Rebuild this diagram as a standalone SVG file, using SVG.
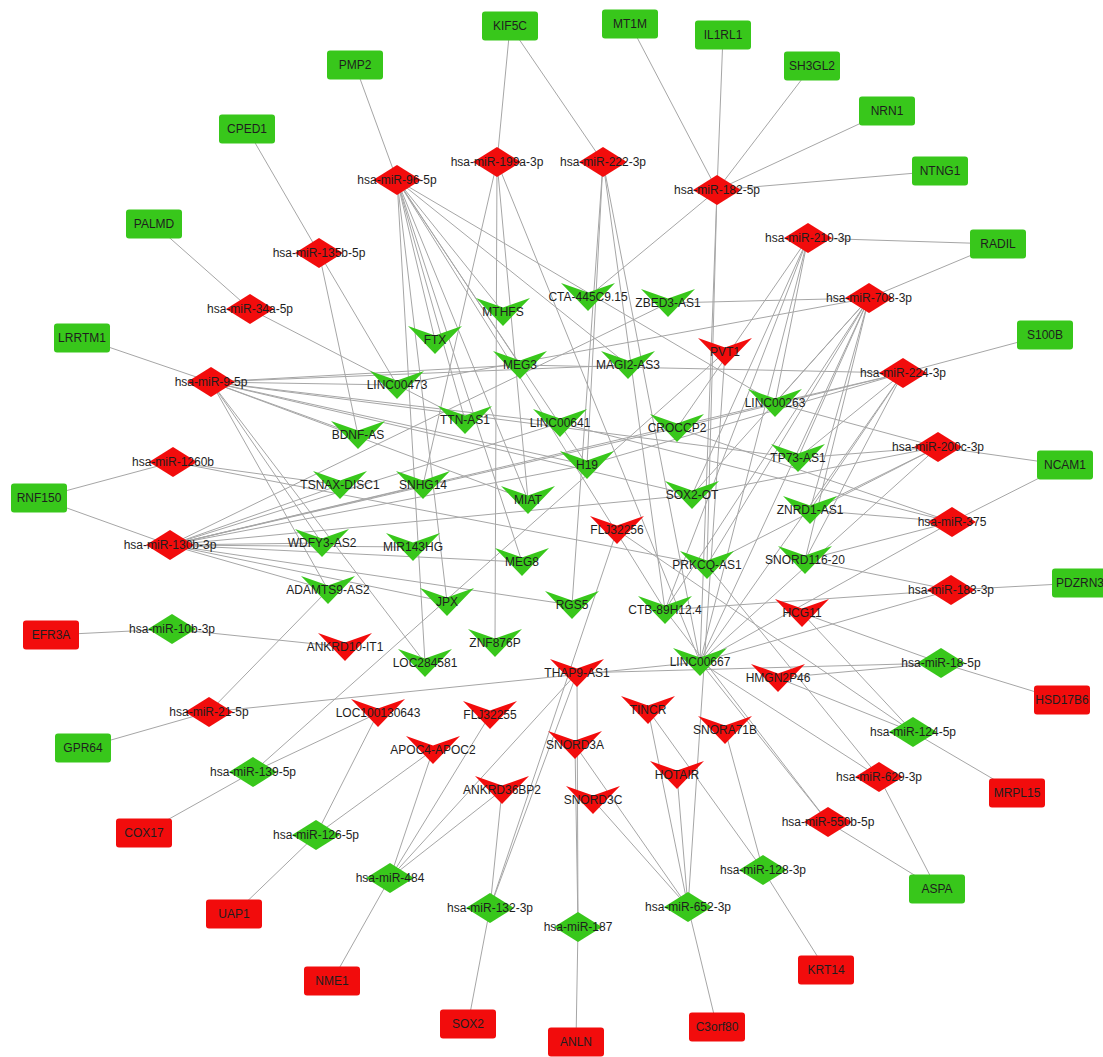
<svg xmlns="http://www.w3.org/2000/svg" xmlns:xlink="http://www.w3.org/1999/xlink" width="1103" height="1057" viewBox="0 0 1103 1057">
<style>
.gr{fill:#38c71b}
.rd{fill:#f20c0c}
.t{font-family:"Liberation Sans",Arial,sans-serif;font-size:12px;text-anchor:middle;dominant-baseline:central;fill:#1e1e1e}
#edges line{stroke:#a6a6a6;stroke-width:1}
</style>
<defs>
<rect id="box" x="-28" y="-14.5" width="56" height="29" rx="3"/>
<path id="dia" d="M-24,0 L0,-15 L24,0 L0,15 Z"/>
<path id="vee" d="M-27,-14 L0,-4.5 L27,-14 L0,14 Z"/>
</defs>
<rect width="1103" height="1057" fill="#fff"/>
<g id="edges">
<line x1="355" y1="65" x2="397" y2="180"/>
<line x1="247" y1="129" x2="319" y2="253"/>
<line x1="154" y1="224" x2="250" y2="309"/>
<line x1="510" y1="26" x2="497" y2="162"/>
<line x1="510" y1="26" x2="603" y2="162"/>
<line x1="630" y1="24" x2="717" y2="190"/>
<line x1="723" y1="35" x2="717" y2="190"/>
<line x1="812" y1="66" x2="717" y2="190"/>
<line x1="887" y1="111" x2="717" y2="190"/>
<line x1="940" y1="171" x2="717" y2="190"/>
<line x1="998" y1="244" x2="808" y2="238"/>
<line x1="998" y1="244" x2="869" y2="298"/>
<line x1="1045" y1="335" x2="903" y2="373"/>
<line x1="1065" y1="465" x2="938" y2="447"/>
<line x1="1065" y1="465" x2="952" y2="522"/>
<line x1="1080" y1="583" x2="951" y2="590"/>
<line x1="1062" y1="700" x2="941" y2="663"/>
<line x1="1017" y1="793" x2="913" y2="732"/>
<line x1="937" y1="889" x2="879" y2="777"/>
<line x1="937" y1="889" x2="828" y2="822"/>
<line x1="826" y1="970" x2="763" y2="870"/>
<line x1="717" y1="1027" x2="688" y2="907"/>
<line x1="576" y1="1042" x2="578" y2="927"/>
<line x1="468" y1="1024" x2="490" y2="908"/>
<line x1="332" y1="981" x2="390" y2="878"/>
<line x1="234" y1="914" x2="316" y2="835"/>
<line x1="144" y1="833" x2="253" y2="772"/>
<line x1="83" y1="748" x2="209" y2="712"/>
<line x1="51" y1="635" x2="172" y2="629"/>
<line x1="39" y1="498" x2="173" y2="462"/>
<line x1="39" y1="498" x2="170" y2="545"/>
<line x1="82" y1="338" x2="211" y2="382"/>
<line x1="397" y1="180" x2="425" y2="663"/>
<line x1="397" y1="180" x2="447" y2="602"/>
<line x1="397" y1="180" x2="435" y2="340"/>
<line x1="397" y1="180" x2="522" y2="562"/>
<line x1="397" y1="180" x2="528" y2="500"/>
<line x1="397" y1="180" x2="665" y2="610"/>
<line x1="397" y1="180" x2="587" y2="465"/>
<line x1="397" y1="180" x2="520" y2="365"/>
<line x1="397" y1="180" x2="503" y2="312"/>
<line x1="397" y1="180" x2="628" y2="365"/>
<line x1="397" y1="180" x2="775" y2="403"/>
<line x1="397" y1="180" x2="465" y2="420"/>
<line x1="497" y1="162" x2="423" y2="485"/>
<line x1="497" y1="162" x2="528" y2="500"/>
<line x1="497" y1="162" x2="700" y2="662"/>
<line x1="497" y1="162" x2="495" y2="643"/>
<line x1="603" y1="162" x2="587" y2="465"/>
<line x1="603" y1="162" x2="572" y2="605"/>
<line x1="603" y1="162" x2="665" y2="610"/>
<line x1="603" y1="162" x2="700" y2="662"/>
<line x1="717" y1="190" x2="588" y2="297"/>
<line x1="717" y1="190" x2="700" y2="662"/>
<line x1="717" y1="190" x2="707" y2="565"/>
<line x1="808" y1="238" x2="677" y2="428"/>
<line x1="808" y1="238" x2="692" y2="495"/>
<line x1="808" y1="238" x2="665" y2="610"/>
<line x1="808" y1="238" x2="700" y2="662"/>
<line x1="808" y1="238" x2="775" y2="403"/>
<line x1="869" y1="298" x2="397" y2="385"/>
<line x1="869" y1="298" x2="775" y2="403"/>
<line x1="869" y1="298" x2="798" y2="458"/>
<line x1="869" y1="298" x2="810" y2="510"/>
<line x1="869" y1="298" x2="692" y2="495"/>
<line x1="869" y1="298" x2="700" y2="662"/>
<line x1="869" y1="298" x2="665" y2="610"/>
<line x1="869" y1="298" x2="805" y2="560"/>
<line x1="869" y1="298" x2="707" y2="565"/>
<line x1="869" y1="298" x2="668" y2="303"/>
<line x1="903" y1="373" x2="520" y2="365"/>
<line x1="903" y1="373" x2="775" y2="403"/>
<line x1="903" y1="373" x2="677" y2="428"/>
<line x1="903" y1="373" x2="587" y2="465"/>
<line x1="903" y1="373" x2="798" y2="458"/>
<line x1="903" y1="373" x2="810" y2="510"/>
<line x1="903" y1="373" x2="700" y2="662"/>
<line x1="903" y1="373" x2="805" y2="560"/>
<line x1="938" y1="447" x2="798" y2="458"/>
<line x1="938" y1="447" x2="810" y2="510"/>
<line x1="938" y1="447" x2="692" y2="495"/>
<line x1="938" y1="447" x2="700" y2="662"/>
<line x1="938" y1="447" x2="707" y2="565"/>
<line x1="938" y1="447" x2="775" y2="403"/>
<line x1="952" y1="522" x2="810" y2="510"/>
<line x1="952" y1="522" x2="805" y2="560"/>
<line x1="952" y1="522" x2="700" y2="662"/>
<line x1="952" y1="522" x2="560" y2="423"/>
<line x1="952" y1="522" x2="677" y2="428"/>
<line x1="951" y1="590" x2="805" y2="560"/>
<line x1="951" y1="590" x2="700" y2="662"/>
<line x1="951" y1="590" x2="665" y2="610"/>
<line x1="319" y1="253" x2="397" y2="385"/>
<line x1="319" y1="253" x2="358" y2="435"/>
<line x1="250" y1="309" x2="465" y2="420"/>
<line x1="211" y1="382" x2="397" y2="385"/>
<line x1="211" y1="382" x2="520" y2="365"/>
<line x1="211" y1="382" x2="560" y2="423"/>
<line x1="211" y1="382" x2="587" y2="465"/>
<line x1="211" y1="382" x2="358" y2="435"/>
<line x1="211" y1="382" x2="528" y2="500"/>
<line x1="211" y1="382" x2="328" y2="590"/>
<line x1="211" y1="382" x2="322" y2="543"/>
<line x1="211" y1="382" x2="425" y2="663"/>
<line x1="211" y1="382" x2="798" y2="458"/>
<line x1="211" y1="382" x2="692" y2="495"/>
<line x1="211" y1="382" x2="628" y2="365"/>
<line x1="173" y1="462" x2="340" y2="485"/>
<line x1="173" y1="462" x2="707" y2="565"/>
<line x1="170" y1="545" x2="322" y2="543"/>
<line x1="170" y1="545" x2="340" y2="485"/>
<line x1="170" y1="545" x2="423" y2="485"/>
<line x1="170" y1="545" x2="328" y2="590"/>
<line x1="170" y1="545" x2="413" y2="547"/>
<line x1="170" y1="545" x2="522" y2="562"/>
<line x1="170" y1="545" x2="572" y2="605"/>
<line x1="170" y1="545" x2="560" y2="423"/>
<line x1="170" y1="545" x2="587" y2="465"/>
<line x1="170" y1="545" x2="677" y2="428"/>
<line x1="170" y1="545" x2="775" y2="403"/>
<line x1="170" y1="545" x2="668" y2="303"/>
<line x1="170" y1="545" x2="692" y2="495"/>
<line x1="170" y1="545" x2="447" y2="602"/>
<line x1="209" y1="712" x2="328" y2="590"/>
<line x1="209" y1="712" x2="700" y2="662"/>
<line x1="879" y1="777" x2="700" y2="662"/>
<line x1="879" y1="777" x2="707" y2="565"/>
<line x1="828" y1="822" x2="700" y2="662"/>
<line x1="828" y1="822" x2="665" y2="610"/>
<line x1="172" y1="629" x2="345" y2="647"/>
<line x1="253" y1="772" x2="725" y2="352"/>
<line x1="253" y1="772" x2="378" y2="713"/>
<line x1="316" y1="835" x2="378" y2="713"/>
<line x1="316" y1="835" x2="433" y2="750"/>
<line x1="390" y1="878" x2="433" y2="750"/>
<line x1="390" y1="878" x2="490" y2="715"/>
<line x1="390" y1="878" x2="577" y2="673"/>
<line x1="390" y1="878" x2="502" y2="790"/>
<line x1="490" y1="908" x2="502" y2="790"/>
<line x1="490" y1="908" x2="617" y2="530"/>
<line x1="490" y1="908" x2="577" y2="673"/>
<line x1="578" y1="927" x2="575" y2="745"/>
<line x1="578" y1="927" x2="577" y2="673"/>
<line x1="688" y1="907" x2="593" y2="800"/>
<line x1="688" y1="907" x2="575" y2="745"/>
<line x1="688" y1="907" x2="648" y2="710"/>
<line x1="688" y1="907" x2="677" y2="775"/>
<line x1="688" y1="907" x2="725" y2="352"/>
<line x1="763" y1="870" x2="725" y2="730"/>
<line x1="763" y1="870" x2="648" y2="710"/>
<line x1="913" y1="732" x2="778" y2="678"/>
<line x1="913" y1="732" x2="802" y2="613"/>
<line x1="913" y1="732" x2="617" y2="530"/>
<line x1="941" y1="663" x2="778" y2="678"/>
<line x1="941" y1="663" x2="802" y2="613"/>
<line x1="941" y1="663" x2="577" y2="673"/>
</g>
<g id="n-KIF5C" transform="translate(510,26)"><use href="#box" class="gr"/><text class="t">KIF5C</text></g>
<g id="n-MT1M" transform="translate(630,24)"><use href="#box" class="gr"/><text class="t">MT1M</text></g>
<g id="n-IL1RL1" transform="translate(723,35)"><use href="#box" class="gr"/><text class="t">IL1RL1</text></g>
<g id="n-SH3GL2" transform="translate(812,66)"><use href="#box" class="gr"/><text class="t">SH3GL2</text></g>
<g id="n-NRN1" transform="translate(887,111)"><use href="#box" class="gr"/><text class="t">NRN1</text></g>
<g id="n-NTNG1" transform="translate(940,171)"><use href="#box" class="gr"/><text class="t">NTNG1</text></g>
<g id="n-RADIL" transform="translate(998,244)"><use href="#box" class="gr"/><text class="t">RADIL</text></g>
<g id="n-S100B" transform="translate(1045,335)"><use href="#box" class="gr"/><text class="t">S100B</text></g>
<g id="n-NCAM1" transform="translate(1065,465)"><use href="#box" class="gr"/><text class="t">NCAM1</text></g>
<g id="n-PDZRN3" transform="translate(1080,583)"><use href="#box" class="gr"/><text class="t">PDZRN3</text></g>
<g id="n-ASPA" transform="translate(937,889)"><use href="#box" class="gr"/><text class="t">ASPA</text></g>
<g id="n-PMP2" transform="translate(355,65)"><use href="#box" class="gr"/><text class="t">PMP2</text></g>
<g id="n-CPED1" transform="translate(247,129)"><use href="#box" class="gr"/><text class="t">CPED1</text></g>
<g id="n-PALMD" transform="translate(154,224)"><use href="#box" class="gr"/><text class="t">PALMD</text></g>
<g id="n-LRRTM1" transform="translate(82,338)"><use href="#box" class="gr"/><text class="t">LRRTM1</text></g>
<g id="n-RNF150" transform="translate(39,498)"><use href="#box" class="gr"/><text class="t">RNF150</text></g>
<g id="n-GPR64" transform="translate(83,748)"><use href="#box" class="gr"/><text class="t">GPR64</text></g>
<g id="n-EFR3A" transform="translate(51,635)"><use href="#box" class="rd"/><text class="t">EFR3A</text></g>
<g id="n-COX17" transform="translate(144,833)"><use href="#box" class="rd"/><text class="t">COX17</text></g>
<g id="n-UAP1" transform="translate(234,914)"><use href="#box" class="rd"/><text class="t">UAP1</text></g>
<g id="n-NME1" transform="translate(332,981)"><use href="#box" class="rd"/><text class="t">NME1</text></g>
<g id="n-SOX2" transform="translate(468,1024)"><use href="#box" class="rd"/><text class="t">SOX2</text></g>
<g id="n-ANLN" transform="translate(576,1042)"><use href="#box" class="rd"/><text class="t">ANLN</text></g>
<g id="n-C3orf80" transform="translate(717,1027)"><use href="#box" class="rd"/><text class="t">C3orf80</text></g>
<g id="n-KRT14" transform="translate(826,970)"><use href="#box" class="rd"/><text class="t">KRT14</text></g>
<g id="n-MRPL15" transform="translate(1017,793)"><use href="#box" class="rd"/><text class="t">MRPL15</text></g>
<g id="n-HSD17B6" transform="translate(1062,700)"><use href="#box" class="rd"/><text class="t">HSD17B6</text></g>
<g id="n-MTHFS" transform="translate(503,312)"><use href="#vee" class="gr"/><text class="t">MTHFS</text></g>
<g id="n-CTA" transform="translate(588,297)"><use href="#vee" class="gr"/><text class="t">CTA-445C9.15</text></g>
<g id="n-ZBED3" transform="translate(668,303)"><use href="#vee" class="gr"/><text class="t">ZBED3-AS1</text></g>
<g id="n-FTX" transform="translate(435,340)"><use href="#vee" class="gr"/><text class="t">FTX</text></g>
<g id="n-MEG3" transform="translate(520,365)"><use href="#vee" class="gr"/><text class="t">MEG3</text></g>
<g id="n-MAGI2" transform="translate(628,365)"><use href="#vee" class="gr"/><text class="t">MAGI2-AS3</text></g>
<g id="n-LINC00473" transform="translate(397,385)"><use href="#vee" class="gr"/><text class="t">LINC00473</text></g>
<g id="n-PVT1" transform="translate(725,352)"><use href="#vee" class="rd"/><text class="t">PVT1</text></g>
<g id="n-TTN" transform="translate(465,420)"><use href="#vee" class="gr"/><text class="t">TTN-AS1</text></g>
<g id="n-LINC00641" transform="translate(560,423)"><use href="#vee" class="gr"/><text class="t">LINC00641</text></g>
<g id="n-CROCCP2" transform="translate(677,428)"><use href="#vee" class="gr"/><text class="t">CROCCP2</text></g>
<g id="n-LINC00263" transform="translate(775,403)"><use href="#vee" class="gr"/><text class="t">LINC00263</text></g>
<g id="n-BDNF" transform="translate(358,435)"><use href="#vee" class="gr"/><text class="t">BDNF-AS</text></g>
<g id="n-H19" transform="translate(587,465)"><use href="#vee" class="gr"/><text class="t">H19</text></g>
<g id="n-TP73" transform="translate(798,458)"><use href="#vee" class="gr"/><text class="t">TP73-AS1</text></g>
<g id="n-TSNAX" transform="translate(340,485)"><use href="#vee" class="gr"/><text class="t">TSNAX-DISC1</text></g>
<g id="n-SNHG14" transform="translate(423,485)"><use href="#vee" class="gr"/><text class="t">SNHG14</text></g>
<g id="n-MIAT" transform="translate(528,500)"><use href="#vee" class="gr"/><text class="t">MIAT</text></g>
<g id="n-SOX2OT" transform="translate(692,495)"><use href="#vee" class="gr"/><text class="t">SOX2-OT</text></g>
<g id="n-ZNRD1" transform="translate(810,510)"><use href="#vee" class="gr"/><text class="t">ZNRD1-AS1</text></g>
<g id="n-FLJ256" transform="translate(617,530)"><use href="#vee" class="rd"/><text class="t">FLJ32256</text></g>
<g id="n-WDFY3" transform="translate(322,543)"><use href="#vee" class="gr"/><text class="t">WDFY3-AS2</text></g>
<g id="n-MIR143HG" transform="translate(413,547)"><use href="#vee" class="gr"/><text class="t">MIR143HG</text></g>
<g id="n-MEG8" transform="translate(522,562)"><use href="#vee" class="gr"/><text class="t">MEG8</text></g>
<g id="n-PRKCQ" transform="translate(707,565)"><use href="#vee" class="gr"/><text class="t">PRKCQ-AS1</text></g>
<g id="n-SNORD116" transform="translate(805,560)"><use href="#vee" class="gr"/><text class="t">SNORD116-20</text></g>
<g id="n-ADAMTS9" transform="translate(328,590)"><use href="#vee" class="gr"/><text class="t">ADAMTS9-AS2</text></g>
<g id="n-JPX" transform="translate(447,602)"><use href="#vee" class="gr"/><text class="t">JPX</text></g>
<g id="n-RGS5" transform="translate(572,605)"><use href="#vee" class="gr"/><text class="t">RGS5</text></g>
<g id="n-CTB" transform="translate(665,610)"><use href="#vee" class="gr"/><text class="t">CTB-89H12.4</text></g>
<g id="n-HCG11" transform="translate(802,613)"><use href="#vee" class="rd"/><text class="t">HCG11</text></g>
<g id="n-ZNF876P" transform="translate(495,643)"><use href="#vee" class="gr"/><text class="t">ZNF876P</text></g>
<g id="n-ANKRD10" transform="translate(345,647)"><use href="#vee" class="rd"/><text class="t">ANKRD10-IT1</text></g>
<g id="n-LOC284581" transform="translate(425,663)"><use href="#vee" class="gr"/><text class="t">LOC284581</text></g>
<g id="n-LINC00667" transform="translate(700,662)"><use href="#vee" class="gr"/><text class="t">LINC00667</text></g>
<g id="n-THAP9" transform="translate(577,673)"><use href="#vee" class="rd"/><text class="t">THAP9-AS1</text></g>
<g id="n-HMGN2P46" transform="translate(778,678)"><use href="#vee" class="rd"/><text class="t">HMGN2P46</text></g>
<g id="n-LOC643" transform="translate(378,713)"><use href="#vee" class="rd"/><text class="t">LOC100130643</text></g>
<g id="n-FLJ255" transform="translate(490,715)"><use href="#vee" class="rd"/><text class="t">FLJ32255</text></g>
<g id="n-TINCR" transform="translate(648,710)"><use href="#vee" class="rd"/><text class="t">TINCR</text></g>
<g id="n-SNORA71B" transform="translate(725,730)"><use href="#vee" class="rd"/><text class="t">SNORA71B</text></g>
<g id="n-APOC" transform="translate(433,750)"><use href="#vee" class="rd"/><text class="t">APOC4-APOC2</text></g>
<g id="n-SNORD3A" transform="translate(575,745)"><use href="#vee" class="rd"/><text class="t">SNORD3A</text></g>
<g id="n-RND" transform="translate(677,775)"><use href="#vee" class="rd"/><text class="t">HOTAIR</text></g>
<g id="n-ANKRD36" transform="translate(502,790)"><use href="#vee" class="rd"/><text class="t">ANKRD36BP2</text></g>
<g id="n-SNORD3C" transform="translate(593,800)"><use href="#vee" class="rd"/><text class="t">SNORD3C</text></g>
<g id="n-R1" transform="translate(397,180)"><use href="#dia" class="rd"/><text class="t">hsa-miR-96-5p</text></g>
<g id="n-R2" transform="translate(497,162)"><use href="#dia" class="rd"/><text class="t">hsa-miR-199a-3p</text></g>
<g id="n-R3" transform="translate(603,162)"><use href="#dia" class="rd"/><text class="t">hsa-miR-222-3p</text></g>
<g id="n-R4" transform="translate(717,190)"><use href="#dia" class="rd"/><text class="t">hsa-miR-182-5p</text></g>
<g id="n-R5" transform="translate(808,238)"><use href="#dia" class="rd"/><text class="t">hsa-miR-210-3p</text></g>
<g id="n-R6" transform="translate(869,298)"><use href="#dia" class="rd"/><text class="t">hsa-miR-708-3p</text></g>
<g id="n-R7" transform="translate(903,373)"><use href="#dia" class="rd"/><text class="t">hsa-miR-224-3p</text></g>
<g id="n-R8" transform="translate(938,447)"><use href="#dia" class="rd"/><text class="t">hsa-miR-200c-3p</text></g>
<g id="n-R9" transform="translate(952,522)"><use href="#dia" class="rd"/><text class="t">hsa-miR-375</text></g>
<g id="n-R10" transform="translate(951,590)"><use href="#dia" class="rd"/><text class="t">hsa-miR-183-3p</text></g>
<g id="n-R11" transform="translate(319,253)"><use href="#dia" class="rd"/><text class="t">hsa-miR-135b-5p</text></g>
<g id="n-R12" transform="translate(250,309)"><use href="#dia" class="rd"/><text class="t">hsa-miR-34a-5p</text></g>
<g id="n-R13" transform="translate(211,382)"><use href="#dia" class="rd"/><text class="t">hsa-miR-9-5p</text></g>
<g id="n-R14" transform="translate(173,462)"><use href="#dia" class="rd"/><text class="t">hsa-miR-1260b</text></g>
<g id="n-R15" transform="translate(170,545)"><use href="#dia" class="rd"/><text class="t">hsa-miR-130b-3p</text></g>
<g id="n-R16" transform="translate(209,712)"><use href="#dia" class="rd"/><text class="t">hsa-miR-21-5p</text></g>
<g id="n-R17" transform="translate(879,777)"><use href="#dia" class="rd"/><text class="t">hsa-miR-629-3p</text></g>
<g id="n-R18" transform="translate(828,822)"><use href="#dia" class="rd"/><text class="t">hsa-miR-550b-5p</text></g>
<g id="n-G1" transform="translate(172,629)"><use href="#dia" class="gr"/><text class="t">hsa-miR-10b-3p</text></g>
<g id="n-G2" transform="translate(253,772)"><use href="#dia" class="gr"/><text class="t">hsa-miR-139-5p</text></g>
<g id="n-G3" transform="translate(316,835)"><use href="#dia" class="gr"/><text class="t">hsa-miR-126-5p</text></g>
<g id="n-G4" transform="translate(390,878)"><use href="#dia" class="gr"/><text class="t">hsa-miR-484</text></g>
<g id="n-G5" transform="translate(490,908)"><use href="#dia" class="gr"/><text class="t">hsa-miR-132-3p</text></g>
<g id="n-G6" transform="translate(578,927)"><use href="#dia" class="gr"/><text class="t">hsa-miR-187</text></g>
<g id="n-G7" transform="translate(688,907)"><use href="#dia" class="gr"/><text class="t">hsa-miR-652-3p</text></g>
<g id="n-G8" transform="translate(763,870)"><use href="#dia" class="gr"/><text class="t">hsa-miR-128-3p</text></g>
<g id="n-G9" transform="translate(913,732)"><use href="#dia" class="gr"/><text class="t">hsa-miR-124-5p</text></g>
<g id="n-G10" transform="translate(941,663)"><use href="#dia" class="gr"/><text class="t">hsa-miR-18-5p</text></g>
</svg>
